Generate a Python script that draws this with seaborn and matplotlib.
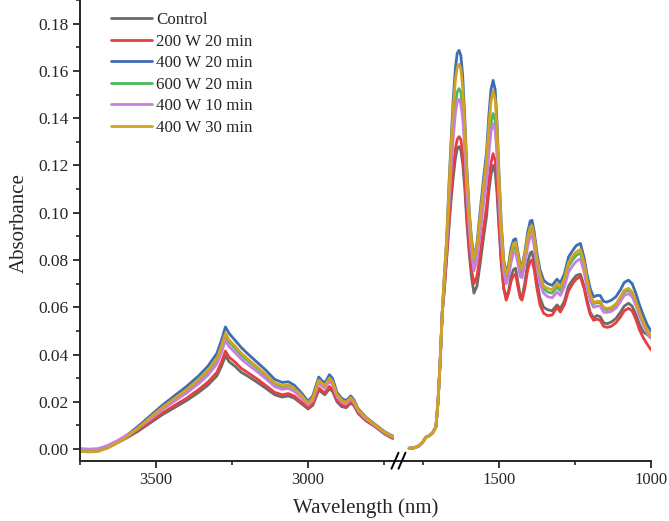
import matplotlib
matplotlib.use("Agg")
import matplotlib.pyplot as plt
from matplotlib.lines import Line2D
from matplotlib.ticker import MultipleLocator
import numpy as np
import pandas as pd
import seaborn as sns

labels = ['Control', '200 W 20 min', '400 W 20 min', '600 W 20 min', '400 W 10 min', '400 W 30 min']
colors = ['#6b6b6b', '#e5403f', '#3d6db3', '#4cba5c', '#c77fe0', '#d3a21f']

# high wavenumber part (left panel)
wn_left = [3750, 3720, 3690, 3660, 3630, 3600, 3560, 3520, 3480, 3440, 3400, 3360, 3330, 3300, 3285,
           3272, 3260, 3240, 3220, 3200, 3170, 3140, 3110, 3085, 3065, 3045, 3020, 3000, 2985, 2965,
           2955, 2945, 2930, 2920, 2905, 2890, 2875, 2860, 2850, 2835, 2810, 2780, 2750, 2722]

control_left = [-0.0005, -0.0006, -0.0005, 0.0005, 0.0025, 0.0045, 0.0075, 0.0110, 0.0145, 0.0175, 0.0205,
                0.0240, 0.0270, 0.0310, 0.0350, 0.0395, 0.0370, 0.0350, 0.0325, 0.0310, 0.0285, 0.0258,
                0.0230, 0.0220, 0.0225, 0.0215, 0.0190, 0.0170, 0.0185, 0.0250, 0.0240, 0.0230, 0.0255,
                0.0245, 0.0200, 0.0180, 0.0175, 0.0195, 0.0185, 0.0150, 0.0120, 0.0095, 0.0065, 0.0045]
w200_20_left = [-0.0003, -0.0005, -0.0004, 0.0007, 0.0026, 0.0047, 0.0080, 0.0116, 0.0152, 0.0184, 0.0215,
                0.0252, 0.0283, 0.0325, 0.0368, 0.0415, 0.0389, 0.0368, 0.0342, 0.0325, 0.0299, 0.0270,
                0.0240, 0.0230, 0.0235, 0.0224, 0.0197, 0.0175, 0.0191, 0.0259, 0.0248, 0.0238, 0.0265,
                0.0254, 0.0206, 0.0186, 0.0180, 0.0200, 0.0189, 0.0153, 0.0122, 0.0097, 0.0067, 0.0047]
w400_20_left = [0.0000, -0.0002, 0.0000, 0.0012, 0.0030, 0.0055, 0.0095, 0.0140, 0.0185, 0.0225, 0.0265,
                0.0310, 0.0350, 0.0405, 0.0460, 0.0517, 0.0490, 0.0460, 0.0430, 0.0405, 0.0370, 0.0335,
                0.0295, 0.0282, 0.0285, 0.0270, 0.0235, 0.0202, 0.0225, 0.0305, 0.0290, 0.0280, 0.0315,
                0.0300, 0.0240, 0.0215, 0.0205, 0.0225, 0.0210, 0.0170, 0.0135, 0.0105, 0.0075, 0.0055]
w600_20_left = [-0.0004, -0.0005, -0.0004, 0.0008, 0.0027, 0.0050, 0.0086, 0.0130, 0.0173, 0.0210, 0.0246,
                0.0288, 0.0325, 0.0376, 0.0426, 0.0480, 0.0453, 0.0426, 0.0397, 0.0376, 0.0344, 0.0311,
                0.0275, 0.0263, 0.0266, 0.0253, 0.0221, 0.0192, 0.0213, 0.0288, 0.0275, 0.0265, 0.0296,
                0.0283, 0.0228, 0.0204, 0.0196, 0.0216, 0.0202, 0.0164, 0.0130, 0.0102, 0.0072, 0.0052]
w400_10_left = [0.0002, 0.0000, 0.0002, 0.0015, 0.0034, 0.0056, 0.0087, 0.0125, 0.0166, 0.0202, 0.0237,
                0.0277, 0.0312, 0.0360, 0.0408, 0.0460, 0.0434, 0.0408, 0.0381, 0.0360, 0.0330, 0.0299,
                0.0264, 0.0253, 0.0257, 0.0244, 0.0214, 0.0187, 0.0206, 0.0279, 0.0267, 0.0257, 0.0287,
                0.0274, 0.0221, 0.0199, 0.0191, 0.0211, 0.0198, 0.0161, 0.0128, 0.0100, 0.0070, 0.0050]
w400_30_left = [-0.0010, -0.0012, -0.0010, 0.0004, 0.0024, 0.0048, 0.0088, 0.0133, 0.0176, 0.0214, 0.0251,
                0.0294, 0.0332, 0.0383, 0.0435, 0.0490, 0.0462, 0.0435, 0.0406, 0.0383, 0.0350, 0.0317,
                0.0280, 0.0268, 0.0271, 0.0257, 0.0225, 0.0195, 0.0216, 0.0292, 0.0279, 0.0269, 0.0301,
                0.0287, 0.0231, 0.0207, 0.0198, 0.0218, 0.0204, 0.0165, 0.0132, 0.0103, 0.0073, 0.0053]

# fingerprint part (right panel)
wn_right = [1795, 1780, 1765, 1750, 1740, 1730, 1718, 1707, 1700, 1693, 1686, 1680, 1672, 1664, 1658,
            1650, 1643, 1637, 1631, 1625, 1619, 1612, 1605, 1597, 1590, 1582, 1572, 1562, 1550, 1541,
            1533, 1526, 1519, 1512, 1506, 1500, 1492, 1484, 1476, 1468, 1460, 1452, 1445, 1438, 1430,
            1424, 1415, 1405, 1397, 1391, 1384, 1375, 1365, 1353, 1340, 1325, 1309, 1298, 1285, 1271,
            1255, 1245, 1232, 1220, 1211, 1200, 1189, 1178, 1167, 1156, 1145, 1130, 1115, 1100, 1088,
            1074, 1062, 1050, 1038, 1025, 1012, 1000]

control_right = [0.0004, 0.0005, 0.0012, 0.0030, 0.0050, 0.0056, 0.0068, 0.0094, 0.0200, 0.0370, 0.0580,
                 0.066, 0.080, 0.094, 0.104, 0.115, 0.123, 0.127, 0.128, 0.1265, 0.121, 0.110, 0.095,
                 0.082, 0.073, 0.066, 0.069, 0.078, 0.090, 0.098, 0.109, 0.116, 0.120, 0.117, 0.108,
                 0.094, 0.078, 0.068, 0.064, 0.067, 0.073, 0.076, 0.0765, 0.071, 0.065, 0.064, 0.070,
                 0.079, 0.083, 0.0835, 0.079, 0.071, 0.064, 0.060, 0.059, 0.0585, 0.061, 0.0595, 0.0625,
                 0.069, 0.072, 0.0735, 0.074, 0.069, 0.0635, 0.058, 0.0555, 0.0565, 0.056, 0.0535, 0.053,
                 0.0538, 0.0553, 0.058, 0.0605, 0.0617, 0.0605, 0.057, 0.0528, 0.0495, 0.0485, 0.047]
w200_20_right = [0.0004, 0.0005, 0.0012, 0.0030, 0.0050, 0.0056, 0.0068, 0.0094, 0.0200, 0.0370, 0.0580,
                 0.067, 0.081, 0.096, 0.107, 0.119, 0.127, 0.131, 0.1322, 0.131, 0.125, 0.114, 0.098,
                 0.085, 0.076, 0.070, 0.073, 0.082, 0.094, 0.102, 0.113, 0.121, 0.125, 0.122, 0.112,
                 0.097, 0.080, 0.068, 0.063, 0.066, 0.071, 0.0735, 0.074, 0.069, 0.064, 0.063, 0.068,
                 0.076, 0.0795, 0.080, 0.076, 0.068, 0.061, 0.0575, 0.0565, 0.0567, 0.060, 0.058, 0.061,
                 0.067, 0.0705, 0.072, 0.0729, 0.068, 0.0625, 0.057, 0.0545, 0.055, 0.0545, 0.052, 0.0515,
                 0.052, 0.0535, 0.056, 0.0585, 0.0596, 0.0585, 0.055, 0.0505, 0.047, 0.0443, 0.042]
w400_20_right = [0.0004, 0.0005, 0.0012, 0.0030, 0.0050, 0.0056, 0.0068, 0.0094, 0.0200, 0.0370, 0.0580,
                 0.072, 0.088, 0.112, 0.128, 0.148, 0.161, 0.1675, 0.1687, 0.1665, 0.158, 0.140, 0.118,
                 0.100, 0.089, 0.081, 0.087, 0.100, 0.115, 0.125, 0.141, 0.152, 0.156, 0.152, 0.138,
                 0.118, 0.095, 0.080, 0.0745, 0.078, 0.085, 0.0885, 0.089, 0.084, 0.078, 0.0775, 0.083,
                 0.092, 0.0965, 0.0968, 0.092, 0.083, 0.076, 0.0715, 0.070, 0.0693, 0.0719, 0.0703, 0.074,
                 0.0813, 0.0845, 0.0862, 0.087, 0.081, 0.0744, 0.068, 0.0644, 0.065, 0.065, 0.0625, 0.0622,
                 0.063, 0.0645, 0.0675, 0.0705, 0.0715, 0.070, 0.066, 0.061, 0.0565, 0.0525, 0.050]
w600_20_right = [0.0004, 0.0005, 0.0012, 0.0030, 0.0050, 0.0056, 0.0068, 0.0094, 0.0200, 0.0370, 0.0580,
                 0.070, 0.086, 0.106, 0.120, 0.136, 0.146, 0.151, 0.1525, 0.151, 0.144, 0.130, 0.111,
                 0.095, 0.085, 0.078, 0.083, 0.094, 0.107, 0.116, 0.129, 0.138, 0.142, 0.139, 0.127,
                 0.110, 0.090, 0.077, 0.072, 0.075, 0.081, 0.085, 0.0855, 0.081, 0.075, 0.0745, 0.080,
                 0.088, 0.0925, 0.093, 0.088, 0.079, 0.072, 0.068, 0.0665, 0.066, 0.0685, 0.067, 0.0705,
                 0.0775, 0.0805, 0.082, 0.083, 0.0775, 0.0715, 0.065, 0.0615, 0.062, 0.062, 0.0595, 0.059,
                 0.0595, 0.061, 0.0638, 0.0665, 0.0673, 0.066, 0.0622, 0.0575, 0.0535, 0.0498, 0.0478]
w400_10_right = [0.0004, 0.0005, 0.0012, 0.0030, 0.0050, 0.0056, 0.0068, 0.0094, 0.0200, 0.0370, 0.0580,
                 0.070, 0.085, 0.104, 0.117, 0.132, 0.142, 0.147, 0.148, 0.146, 0.140, 0.127, 0.108,
                 0.093, 0.083, 0.0755, 0.080, 0.091, 0.104, 0.113, 0.125, 0.134, 0.1377, 0.135, 0.124,
                 0.107, 0.088, 0.075, 0.070, 0.073, 0.079, 0.083, 0.0835, 0.079, 0.073, 0.0725, 0.078,
                 0.086, 0.090, 0.0905, 0.086, 0.077, 0.070, 0.066, 0.0645, 0.064, 0.0665, 0.065, 0.0685,
                 0.075, 0.078, 0.0795, 0.0805, 0.075, 0.069, 0.063, 0.060, 0.0605, 0.0605, 0.058, 0.0578,
                 0.0583, 0.0597, 0.0625, 0.065, 0.0658, 0.0645, 0.061, 0.0565, 0.0525, 0.049, 0.047]
w400_30_right = [0.0004, 0.0005, 0.0012, 0.0030, 0.0050, 0.0056, 0.0068, 0.0094, 0.0200, 0.0370, 0.0580,
                 0.072, 0.088, 0.110, 0.126, 0.144, 0.156, 0.1615, 0.1628, 0.161, 0.153, 0.137, 0.116,
                 0.099, 0.088, 0.0805, 0.086, 0.098, 0.112, 0.122, 0.137, 0.147, 0.1515, 0.148, 0.135,
                 0.116, 0.094, 0.079, 0.074, 0.077, 0.083, 0.087, 0.0875, 0.083, 0.077, 0.0765, 0.082,
                 0.090, 0.094, 0.0945, 0.090, 0.081, 0.074, 0.069, 0.068, 0.0675, 0.070, 0.0685, 0.072,
                 0.079, 0.082, 0.0835, 0.0845, 0.079, 0.0725, 0.0655, 0.062, 0.0625, 0.0625, 0.060, 0.0595,
                 0.060, 0.0615, 0.0645, 0.0672, 0.068, 0.0665, 0.0628, 0.058, 0.0538, 0.050, 0.048]

left_vals = [control_left, w200_20_left, w400_20_left, w600_20_left, w400_10_left, w400_30_left]
right_vals = [control_right, w200_20_right, w400_20_right, w600_20_right, w400_10_right, w400_30_right]


def long_df(wn, vals):
    parts = []
    for lab, v in zip(labels, vals):
        parts.append(pd.DataFrame({'wn': wn, 'abs': v, 'sample': lab}))
    return pd.concat(parts, ignore_index=True)


df_left = long_df(wn_left, left_vals)
df_right = long_df(wn_right, right_vals)

sns.set_style("ticks")
plt.rcParams['font.family'] = ['Liberation Serif', 'DejaVu Serif']
plt.rcParams['axes.linewidth'] = 1.4

W, H = 669, 521
fig = plt.figure(figsize=(W / 100, H / 100), dpi=100)
bot = 1 - 460.7 / H
ax1 = fig.add_axes([80 / W, bot, 320 / W, 1 - bot])
ax2 = fig.add_axes([400 / W, bot, 251 / W, 1 - bot], sharey=ax1)

pal = dict(zip(labels, colors))
lw = 2.0
sns.lineplot(data=df_left, x='wn', y='abs', hue='sample', hue_order=labels, palette=pal,
             estimator=None, linewidth=lw, ax=ax1)
sns.lineplot(data=df_right, x='wn', y='abs', hue='sample', hue_order=labels, palette=pal,
             estimator=None, linewidth=lw, ax=ax2, legend=False)

ax1.set_xlim(3750, 2698)
ax2.set_xlim(1825, 1000)
ax1.set_ylim(-0.0049, 0.19)

for ax in (ax1, ax2):
    ax.set_xlabel('')
    ax.set_ylabel('')
    ax.spines['top'].set_visible(False)
    ax.spines['right'].set_visible(False)
    ax.xaxis.set_major_locator(MultipleLocator(500))
    ax.xaxis.set_minor_locator(MultipleLocator(250))
    ax.tick_params(which='major', direction='out', length=5, width=1.3, labelsize=12.5, pad=3)
    ax.tick_params(which='minor', direction='out', length=3, width=1.2)
    ax.tick_params(axis='x', labelsize=12)
ax2.spines['left'].set_visible(False)
ax2.tick_params(axis='y', which='both', left=False, labelleft=False)

ax1.yaxis.set_minor_locator(MultipleLocator(0.01))
ax1.set_yticks(np.arange(0, 0.181, 0.02))
ax1.set_yticklabels(['%.2f' % t for t in np.arange(0, 0.181, 0.02)])

# axis break marks
ys = 460.7
for xc in (395, 402):
    fig.add_artist(Line2D([(xc - 3.5) / W, (xc + 3.5) / W], [1 - (ys + 8) / H, 1 - (ys - 8) / H],
                          color='black', lw=1.4, transform=fig.transFigure))

fig.text(19 / W, 1 - 223 / H, 'Absorbance', rotation=90, ha='center', va='center', fontsize=15)
fig.text(366 / W, 1 - 508 / H, 'Wavelength (nm)', ha='center', va='center', fontsize=15)

leg = ax1.legend(loc='upper left', bbox_to_anchor=(31 / 320, 1 - 12 / 460.7), frameon=False,
                 fontsize=12.2, handlelength=2.4, handletextpad=0.25, labelspacing=0.33, borderpad=0,
                 borderaxespad=0)
for h in leg.get_lines():
    h.set_linewidth(lw)

fig.savefig('out.png', dpi=100)
